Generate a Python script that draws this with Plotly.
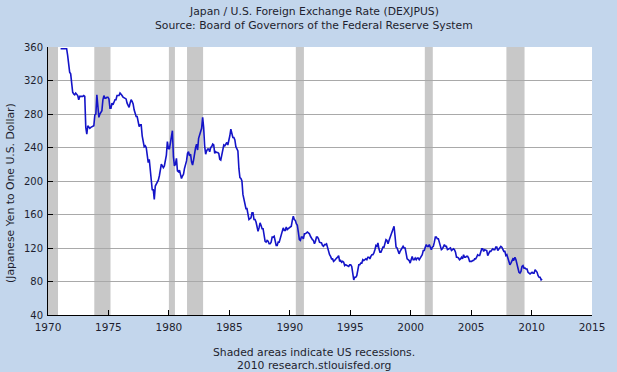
import plotly.graph_objects as go

# Monthly JPY per USD, Jan 1971 .. Nov 2010
rate_1970s = [
    358, 358, 358, 358, 358, 358, 358, 350, 337, 330, 328, 315,   # 1971
    306, 304, 303, 305, 303, 302, 297, 301, 301, 301, 301, 302,   # 1972
    301, 264, 256, 266, 264, 263, 264, 265, 265, 266, 279, 280,   # 1973
    303, 287, 276, 280, 282, 284, 297, 302, 299, 299, 300, 300,   # 1974
    298, 287, 287, 293, 291, 294, 297, 297, 302, 302, 302, 305,   # 1975
    304, 302, 300, 299, 299, 298, 293, 290, 288, 293, 297, 295,   # 1976
    292, 285, 281, 277, 277, 272, 265, 267, 267, 254, 244, 241,   # 1977
    242, 240, 231, 222, 226, 214, 199, 189, 190, 178, 194, 196,   # 1978
    199, 201, 206, 217, 220, 218, 216, 218, 223, 231, 247, 239,   # 1979
]
rate_1980s = [
    238, 245, 249, 260, 229, 218, 220, 227, 212, 211, 213, 209,   # 1980
    203, 206, 208, 215, 220, 224, 233, 235, 230, 232, 223, 219,   # 1981
    225, 235, 240, 244, 237, 251, 255, 259, 263, 276, 264, 242,   # 1982
    232, 236, 238, 238, 235, 240, 241, 244, 243, 233, 235, 234,   # 1983
    234, 233, 226, 225, 231, 233, 243, 242, 245, 246, 243, 247,   # 1984
    254, 262, 258, 252, 252, 249, 241, 237, 236, 215, 204, 203,   # 1985
    200, 184, 179, 175, 167, 167, 159, 154, 155, 156, 162, 162,   # 1986
    154, 154, 151, 143, 140, 144, 150, 147, 143, 143, 135, 128,   # 1987
    127, 129, 128, 125, 125, 127, 133, 133, 134, 129, 123, 123,   # 1988
    127, 127, 131, 133, 138, 144, 141, 141, 145, 142, 143, 144,   # 1989
]
rate_1990s = [
    145, 146, 153, 158, 154, 153, 149, 147, 139, 130, 129, 133,   # 1990
    133, 131, 137, 137, 138, 139, 138, 137, 134, 131, 130, 129,   # 1991
    125, 128, 133, 133, 131, 127, 126, 126, 123, 122, 124, 124,   # 1992
    125, 120, 117, 112, 110, 107, 107, 104, 105, 107, 108, 109,   # 1993
    111, 104, 105, 103, 104, 103, 99, 100, 99, 98, 98, 100,       # 1994
    100, 98, 90, 82, 85, 85, 87, 94, 100, 100, 102, 102,          # 1995
    106, 105, 106, 107, 106, 109, 109, 107, 110, 112, 112, 114,   # 1996
    118, 123, 122, 126, 119, 115, 115, 118, 121, 121, 125, 130,   # 1997
    129, 125, 129, 132, 135, 140, 141, 146, 134, 121, 120, 117,   # 1998
    113, 116, 119, 120, 122, 120, 120, 113, 107, 106, 105, 102,   # 1999
]
rate_2000s = [
    105, 110, 106, 106, 108, 106, 108, 108, 106, 108, 109, 112,   # 2000
    117, 117, 121, 124, 122, 122, 124, 121, 118, 121, 122, 127,   # 2001
    133, 133, 131, 131, 126, 123, 118, 119, 121, 124, 122, 122,   # 2002
    118, 119, 119, 120, 117, 118, 119, 118, 115, 109, 109, 108,   # 2003
    106, 107, 109, 107, 112, 109, 109, 110, 110, 108, 104, 104,   # 2004
    104, 105, 105, 107, 107, 109, 112, 111, 111, 115, 119, 119,   # 2005
    116, 118, 117, 117, 111, 114, 116, 116, 117, 119, 118, 118,   # 2006
    121, 121, 117, 119, 121, 122, 121, 117, 116, 116, 111, 112,   # 2007
    108, 107, 100, 102, 104, 107, 106, 109, 106, 100, 96, 91,     # 2008
    90, 92, 98, 99, 96, 96, 95, 95, 91, 90, 89, 90,               # 2009
    91, 90, 90, 94, 92, 91, 87, 85, 85, 82, 83,                   # 2010
]
start_year = 1971

# US recessions (decimal years)
recession_start = [1969.92, 1973.83, 1980.0, 1981.5, 1990.5, 2001.17, 2007.92]
recession_end = [1970.83, 1975.17, 1980.5, 1982.83, 1991.17, 2001.83, 2009.42]

x_ticks = [1970, 1975, 1980, 1985, 1990, 1995, 2000, 2005, 2010, 2015]
y_ticks = [40, 80, 120, 160, 200, 240, 280, 320, 360]

title_lines = ["Japan / U.S. Foreign Exchange Rate (DEXJPUS)",
               "Source: Board of Governors of the Federal Reserve System"]
footer_lines = ["Shaded areas indicate US recessions.",
                "2010 research.stlouisfed.org"]
y_title = "(Japanese Yen to One U.S. Dollar)"

rates = rate_1970s + rate_1980s + rate_1990s + rate_2000s
dates = [start_year + (i + 0.5) / 12 for i in range(len(rates))]

FONT = "DejaVu Sans"
TXT = "#1e1e2e"
BG = "#c3d6ec"

fig = go.Figure()
fig.add_trace(go.Scatter(x=dates, y=rates, mode="lines",
                         line=dict(color="#1414c8", width=1.6),
                         hoverinfo="skip", showlegend=False))

for s, e in zip(recession_start, recession_end):
    fig.add_shape(type="rect", xref="x", yref="y",
                  x0=max(s, x_ticks[0]), x1=e, y0=y_ticks[0], y1=y_ticks[-1],
                  fillcolor="#c8c8c8", line_width=0, layer="below")

cx = (314 - 48) / 544


def note(text, x, y, angle=0):
    fig.add_annotation(text=text, xref="paper", yref="paper", x=x, y=y,
                       xanchor="center", yanchor="middle", textangle=angle,
                       showarrow=False,
                       font=dict(family=FONT, size=10.8, color=TXT))


note(title_lines[0], cx, 1 + (47 - 12) / 268)
note(title_lines[1], cx, 1 + (47 - 25.5) / 268)
note(footer_lines[0], cx, -(352 - 315) / 268)
note(footer_lines[1], cx, -(365.7 - 315) / 268)
note(y_title, -(48 - 10) / 544, (315 - 193) / 268, angle=-90)

fig.update_layout(
    width=617, height=372,
    margin=dict(l=48, r=25, t=47, b=57),
    paper_bgcolor=BG, plot_bgcolor="white",
    font=dict(family=FONT, size=10.5, color=TXT),
    xaxis=dict(range=[1970, 2015], tickvals=x_ticks,
               ticktext=[str(t) for t in x_ticks],
               showgrid=False, zeroline=False, showline=True,
               linecolor="black", linewidth=1, ticks="inside", ticklen=5,
               tickcolor="black", ticklabelstandoff=2,
               ticklabeloverflow="allow",
               tickfont=dict(family=FONT, size=10.5, color=TXT)),
    yaxis=dict(range=[40, 360], tickvals=y_ticks,
               ticktext=[str(t) for t in y_ticks],
               showgrid=True, gridcolor="#a9a9a9", gridwidth=1,
               zeroline=False, showline=True, linecolor="black", linewidth=1,
               ticks="inside", ticklen=5, tickcolor="black",
               ticklabelstandoff=2,
               tickfont=dict(family=FONT, size=10, color=TXT)),
)

fig.write_html("out.html", config={"displayModeBar": False},
               post_script="document.body.style.margin='0';"
                           "document.body.style.background='%s';" % BG)
